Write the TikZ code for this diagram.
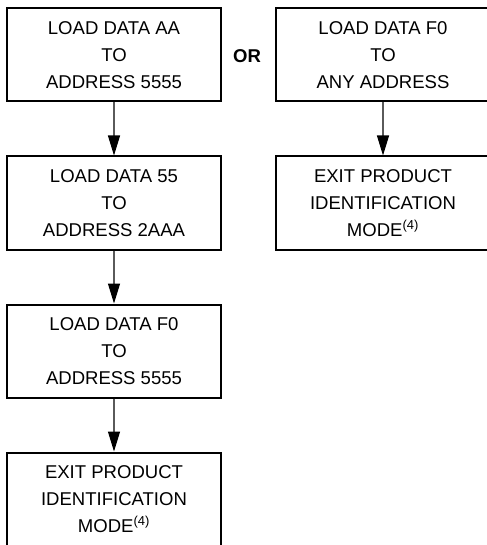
\documentclass[tikz,border=0pt]{standalone}
\usepackage{fontspec}
\setmainfont{Liberation Sans}
\usetikzlibrary{arrows.meta}

\tikzset{every picture/.style={line width=0.75pt}}
\tikzset{
  flowbox/.style={draw, line width=1.5pt, minimum width=160.5pt, minimum height=69.75pt, align=center, inner sep=0pt, font=\fontsize{13.9}{20}\selectfont},
  flowarrow/.style={draw={rgb,255:red,90;green,90;blue,90}, line width=0.9pt, -{Triangle[length=15pt,width=9pt,color=black]}}
}

\begin{document}
\begin{tikzpicture}[x=0.75pt,y=0.75pt,yscale=-1,xscale=1]
\useasboundingbox (0,0) rectangle (486,545);

%Shape: Rectangle [left column]
\node [flowbox] (loadAA) at (114,55) {LOAD DATA AA\\TO\\ADDRESS 5555};
\node [flowbox] (load55) at (114,203) {LOAD DATA 55\\TO\\ADDRESS 2AAA};
\node [flowbox] (loadF0) at (114,351) {LOAD DATA F0\\TO\\ADDRESS 5555};
\node [flowbox] (exitL) at (114,499) {EXIT PRODUCT\\IDENTIFICATION\\MODE\textsuperscript{(4)}};
%Shape: Rectangle [right column]
\node [flowbox] (loadAny) at (383,55) {LOAD DATA F0\\TO\\ANY ADDRESS};
\node [flowbox] (exitR) at (383,203) {EXIT PRODUCT\\IDENTIFICATION\\MODE\textsuperscript{(4)}};

% Text Node
\node [font=\fontsize{13.9}{20}\selectfont\bfseries] (orLabel) at (247,56) {OR};

%Straight Lines
\draw [flowarrow] (loadAA) -- (load55);
\draw [flowarrow] (load55) -- (loadF0);
\draw [flowarrow] (loadF0) -- (exitL);
\draw [flowarrow] (loadAny) -- (exitR);

\end{tikzpicture}
\end{document}
